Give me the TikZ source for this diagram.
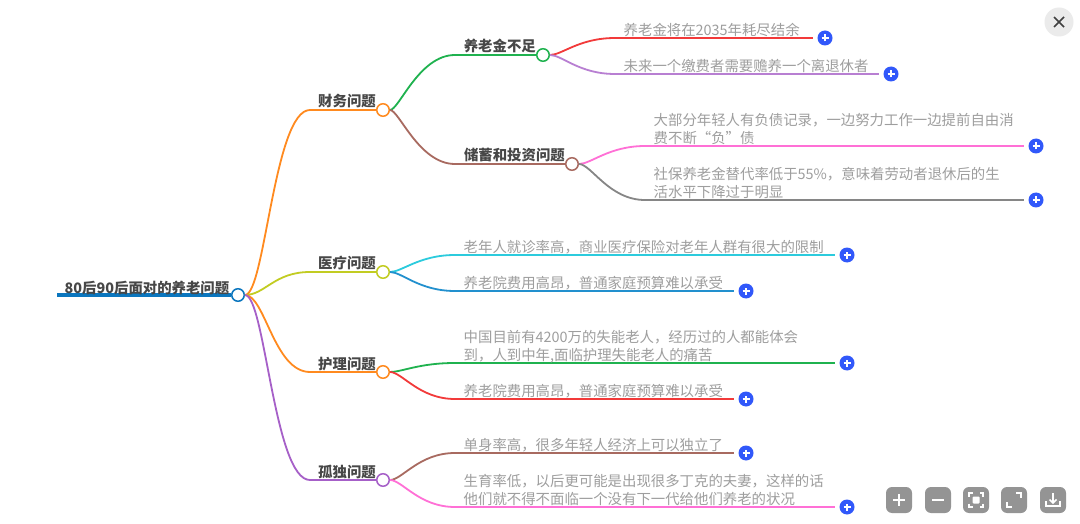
\documentclass[tikz,border=0pt]{standalone}
\usepackage{fontspec}
\newfontfamily\cjk{Noto Sans CJK SC}
\definecolor{rootblue}{HTML}{0B76BE}
\definecolor{linkorange}{HTML}{FF8A1F}
\definecolor{linkolive}{HTML}{C2CC22}
\definecolor{linkpurple}{HTML}{A660C8}
\definecolor{linkgreen}{HTML}{1FB24F}
\definecolor{linkbrown}{HTML}{A86A60}
\definecolor{linkred}{HTML}{F23A3A}
\definecolor{linklilac}{HTML}{B87FD2}
\definecolor{linkpink}{HTML}{FF70D6}
\definecolor{linkgray}{HTML}{868686}
\definecolor{linkcyan}{HTML}{2CCBDD}
\definecolor{linkblue}{HTML}{2290CE}
\definecolor{plusblue}{HTML}{3158FA}
\tikzset{
  linkline/.style={line width=1.8pt},
  dotnode/.style={circle,draw=#1,fill=white,line width=1.5pt,minimum size=12.5pt,inner sep=0pt},
  plusnode/.style={circle,fill=plusblue,minimum size=15pt,inner sep=0pt},
  titletext/.style={anchor=base east,inner sep=0pt,text=black!72,font=\cjk\bfseries\fontsize{14.4}{18.5}\selectfont},
  leaftext/.style={anchor=south west,inner sep=0pt,text depth=0pt,align=left,text=black!38,font=\cjk\fontsize{14.4}{18.5}\selectfont},
  toolbtn/.style={fill=black!42,rounded corners=6pt,minimum size=26pt,inner sep=0pt},
  iconline/.style={draw=white,line width=1.6pt}
}
\begin{document}
\begin{tikzpicture}[x=1pt,y=-1pt]
  \path[fill=white,use as bounding box] (0,0) rectangle (1080,524);

  % root
  \node[dotnode=rootblue] (dotroot) at (238,295) {};
  \coordinate (rootstart) at (57,295);
  \draw[rootblue,line width=4pt] (rootstart) -- (dotroot.west);
  \node[titletext] (textroot) at (229.5,293) {80后90后面对的养老问题};

  % first level
  \foreach \name/\yy/\col/\body in {money/110/linkorange/财务问题,care/272/linkolive/医疗问题,nurse/372/linkorange/护理问题,alone/480/linkpurple/孤独问题}{
    \node[dotnode=\col] (dot\name) at (383,\yy) {};
    \coordinate (elbow\name) at (310,\yy);
    \draw[linkline,\col] (dotroot.east) .. controls +(20,0) and +(-36,0) .. (elbow\name) -- (dot\name.west);
    \node[titletext] (text\name) at (376,\yy-3) {\body};
  }

  % second level
  \foreach \name/\yy/\xend/\col/\body in {pension/55/543/linkgreen/养老金不足,saving/164/572/linkbrown/储蓄和投资问题}{
    \node[dotnode=\col] (dot\name) at (\xend,\yy) {};
    \coordinate (elbow\name) at (455,\yy);
    \draw[linkline,\col] (dotmoney.east) .. controls +(9,0) and +(-36,0) .. (elbow\name) -- (dot\name.west);
    \node[titletext] (text\name) at (\xend-7,\yy-3) {\body};
  }

  % leaves
  \foreach \name/\from/\xx/\yy/\xend/\col/\body in {
    exhaust/pension/615/38/825/linkred/养老金将在2035年耗尽结余,
    support/pension/615/74/891/linklilac/未来一个缴费者需要赡养一个离退休者,
    debt/saving/645/146/1036/linkpink/{大部分年轻人有负债记录，一边努力工作一边提前自由消\\费不断“负”债},
    ratio/saving/645/200/1036/linkgray/{社保养老金替代率低于55\%，意味着劳动者退休后的生\\活水平下降过于明显},
    clinic/care/455/255/847/linkcyan/老年人就诊率高，商业医疗保险对老年人群有很大的限制,
    carefee/care/455/291/746/linkblue/养老院费用高昂，普通家庭预算难以承受,
    disabled/nurse/455/363/847/linkgreen/{中国目前有4200万的失能老人，经历过的人都能体会\\到，人到中年,面临护理失能老人的痛苦},
    nursefee/nurse/455/399/746/linkred/养老院费用高昂，普通家庭预算难以承受,
    single/alone/455/453/746/linkbrown/单身率高，很多年轻人经济上可以独立了,
    birth/alone/455/507/847/linkpink/{生育率低，以后更可能是出现很多丁克的夫妻，这样的话\\他们就不得不面临一个没有下一代给他们养老的状况}}{
    \node[plusnode] (plus\name) at (\xend,\yy) {};
    \coordinate (elbow\name) at (\xx,\yy);
    \draw[linkline,\col,shorten >=4.5pt] (dot\from.east) .. controls +(12,0) and +(-36,0) .. (elbow\name) -- (plus\name);
    \draw[white,line width=1.2pt] ([xshift=-3.5pt]plus\name.center) -- ([xshift=3.5pt]plus\name.center)
      ([yshift=-3.5pt]plus\name.center) -- ([yshift=3.5pt]plus\name.center);
    \node[leaftext] (text\name) at (\xx+8.5,\yy-2) {\body};
  }

  % close button
  \node[circle,fill=black!8,minimum size=29pt,inner sep=0pt] (closebtn) at (1059,22) {};
  \draw[black!75,line width=1.6pt] ([shift={(-5,-5)}]closebtn.center) -- ([shift={(5,5)}]closebtn.center)
    ([shift={(-5,5)}]closebtn.center) -- ([shift={(5,-5)}]closebtn.center);

  % toolbar
  \foreach \name/\xx in {zoomin/899,zoomout/938,fit/976,expand/1014,save/1053}
    \node[toolbtn] (btn\name) at (\xx,500) {};
  \draw[iconline] ([xshift=-6pt]btnzoomin.center) -- ([xshift=6pt]btnzoomin.center)
    ([yshift=-6pt]btnzoomin.center) -- ([yshift=6pt]btnzoomin.center);
  \draw[iconline] ([xshift=-6pt]btnzoomout.center) -- ([xshift=6pt]btnzoomout.center);
  \fill[white,rounded corners=1pt] ([shift={(-3.5,-3.5)}]btnfit.center) rectangle ([shift={(3.5,3.5)}]btnfit.center);
  \foreach \sx/\sy in {-1/-1,1/-1,-1/1,1/1}{
    \draw[iconline] ([shift={(\sx*7,\sy*3.5)}]btnfit.center) -- ([shift={(\sx*7,\sy*7)}]btnfit.center) -- ([shift={(\sx*3.5,\sy*7)}]btnfit.center);
  }
  \draw[iconline] ([shift={(2,-7)}]btnexpand.center) -- ([shift={(7,-7)}]btnexpand.center) -- ([shift={(7,-2)}]btnexpand.center);
  \draw[iconline] ([shift={(-2,7)}]btnexpand.center) -- ([shift={(-7,7)}]btnexpand.center) -- ([shift={(-7,2)}]btnexpand.center);
  \draw[iconline] ([shift={(-7,1)}]btnsave.center) -- ([shift={(-7,6)}]btnsave.center) -- ([shift={(7,6)}]btnsave.center) -- ([shift={(7,1)}]btnsave.center);
  \draw[iconline] ([shift={(0,-7)}]btnsave.center) -- ([shift={(0,3)}]btnsave.center);
  \draw[iconline] ([shift={(-3.5,-0.5)}]btnsave.center) -- ([shift={(0,3)}]btnsave.center) -- ([shift={(3.5,-0.5)}]btnsave.center);
\end{tikzpicture}
\end{document}
